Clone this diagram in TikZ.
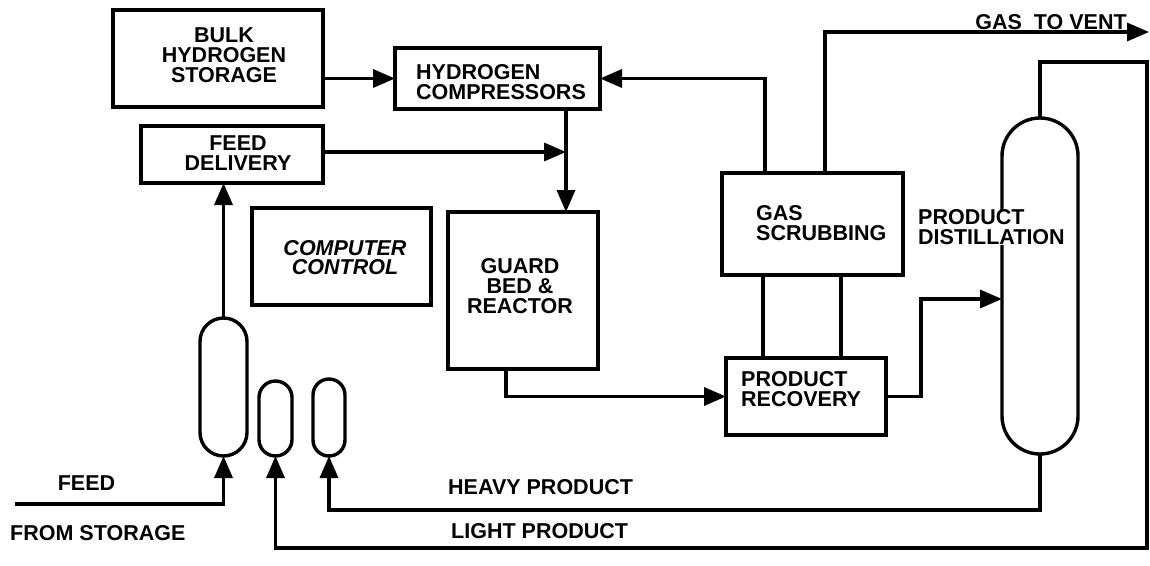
\documentclass[tikz,border=0pt]{standalone}
\usepackage{fontspec}
\setmainfont{Liberation Sans}
\usetikzlibrary{arrows.meta}
\begin{document}
\begin{tikzpicture}[x=1pt,y=-1pt,
  box/.style={draw, line width=3.4pt, inner sep=0pt, outer sep=0pt},
  vessel/.style={draw, line width=3.4pt, inner sep=0pt, outer sep=0pt},
  lbl/.style={font=\fontsize{21.5}{20}\selectfont\bfseries, inner sep=0pt, align=left},
  ital/.style={font=\fontsize{21.5}{19.5}\selectfont\bfseries\itshape},
  ln/.style={line width=3.4pt},
  arr/.style={line width=3.4pt, -{Triangle[length=22pt,width=18pt]}}]
\useasboundingbox[fill=white] (0,0) rectangle (1150,565);

% boxes
\node[box, minimum width=210pt, minimum height=97pt] (bulk) at (218,58.5) {};
\node[box, minimum width=205pt, minimum height=61pt] (comp) at (497.5,78.5) {};
\node[box, minimum width=182pt, minimum height=57pt] (feed) at (232,154.5) {};
\node[box, minimum width=179pt, minimum height=97pt] (ctrl) at (341.5,256.5) {};
\node[box, minimum width=150pt, minimum height=157pt] (guard) at (523,290.5) {};
\node[box, minimum width=181pt, minimum height=102pt] (scrub) at (812.5,224) {};
\node[box, minimum width=160pt, minimum height=77pt] (recov) at (806,396.5) {};

% vessels
\node[vessel, minimum width=76pt, minimum height=336pt, rounded corners=38pt] (col) at (1040,286) {};
\node[vessel, minimum width=47pt, minimum height=138pt, rounded corners=23.5pt] (fv) at (223.5,387) {};
\node[vessel, minimum width=33pt, minimum height=75pt, rounded corners=16.5pt] (v1) at (275.5,418.5) {};
\node[vessel, minimum width=32pt, minimum height=77pt, rounded corners=16pt] (v2) at (329,417.5) {};

% labels
\node[lbl, align=center] (bulkt) at (224,55) {BULK\\HYDROGEN\\STORAGE};
\node[lbl, anchor=west] (compt) at (416,82) {HYDROGEN\\COMPRESSORS};
\node[lbl, align=center] (feedt) at (238,153) {FEED\\DELIVERY};
\node[lbl, ital, align=center] (ctrlt) at (345,257.5) {COMPUTER\\CONTROL};
\node[lbl, align=center] (guardt) at (520,286) {GUARD\\BED \&\\REACTOR};
\node[lbl, anchor=west] (scrubt) at (756,223) {GAS\\SCRUBBING};
\node[lbl, anchor=west] (recovt) at (741,389.5) {PRODUCT\\RECOVERY};
\node[lbl, anchor=west, fill=white] (distt) at (918,227.5) {PRODUCT\\DISTILLATION};
\node[lbl] (ventt) at (1051,22) {GAS\ \ TO VENT};
\node[lbl] (feedl) at (86.5,483) {FEED};
\node[lbl, anchor=west] (froml) at (10,533) {FROM STORAGE};
\node[lbl, anchor=west] (heavyl) at (448,487) {HEAVY PRODUCT};
\node[lbl, anchor=west] (lightl) at (451,531) {LIGHT PRODUCT};

% helper coordinates
\coordinate (j) at (566,152);
\coordinate (a1) at (765,76);
\coordinate (a2) at (825,0);
\coordinate (vent) at (1149,32);
\coordinate (a3) at (763,0);
\coordinate (a4) at (841,0);
\coordinate (g1) at (506,395);
\coordinate (k) at (921,299);
\coordinate (tr) at (1147,62);
\coordinate (br) at (1147,548);
\coordinate (hb) at (0,510);
\coordinate (fs) at (15,504);

% connectors
\draw[arr] (bulk.east |- comp.west) -- (comp.west);
\draw[arr] (feed.east |- j) -- (j);
\draw[arr] (comp.south -| j) -- (guard.north -| j);
\draw[arr] (scrub.north -| a1) |- (comp.east);
\draw[arr] (scrub.north -| a2) |- (vent);
\draw[ln] (scrub.south -| a3) -- (recov.north -| a3);
\draw[ln] (scrub.south -| a4) -- (recov.north -| a4);
\draw[arr] (guard.south -| g1) |- (recov.west);
\draw[arr] (recov.east) -| (k) -- (k -| col.west);
\draw[arr] (col.north) |- (tr) -- (br) -| (v1.south);
\draw[arr] (col.south) |- (hb -| v2.south) -- (v2.south);
\draw[arr] (fs) -| (fv.south);
\draw[arr] (fv.north) -- (fv.north |- feed.south);
\end{tikzpicture}
\end{document}
